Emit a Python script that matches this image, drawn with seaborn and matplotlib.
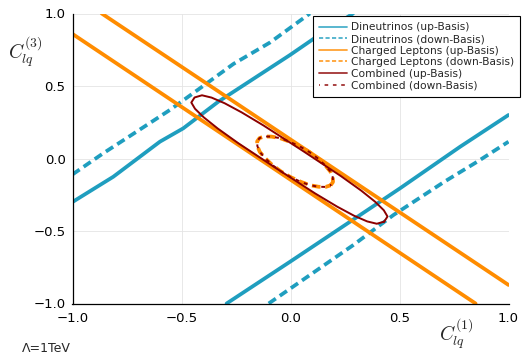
import numpy as np
import pandas as pd
import matplotlib
matplotlib.use("Agg")
import matplotlib.pyplot as plt
import seaborn as sns

# ---------------- data ----------------
# Dineutrinos, up-basis (two solid bands)
nu_up1_x = [-1.0, -0.813, -0.599, -0.492, -0.331, -0.002, 0.120, 0.287]
nu_up1_y = [-0.30, -0.126, 0.116, 0.208, 0.392, 0.714, 0.840, 1.0]
nu_up2_x = [-0.293, -0.002, 0.319, 0.502, 0.778, 1.0]
nu_up2_y = [-1.0, -0.712, -0.39, -0.206, 0.081, 0.30]
# Dineutrinos, down-basis (two dashed bands)
nu_dn1_x = [-1.0, -0.859, -0.706, -0.553, -0.41, -0.262, -0.094, 0.089]
nu_dn1_y = [-0.11, 0.036, 0.185, 0.335, 0.49, 0.652, 0.80, 1.0]
nu_dn2_x = [-0.10, 0.288, 0.472, 0.706, 0.859, 1.0]
nu_dn2_y = [-1.0, -0.597, -0.39, -0.16, -0.02, 0.116]
# Charged leptons, up-basis (two straight solid lines)
cl_up1_x = [-0.866, 1.0]
cl_up1_y = [1.0, -0.872]
cl_up2_x = [-1.0, 0.849]
cl_up2_y = [0.859, -1.0]
# Combined, up-basis (closed contour)
cb_up_x = [0.430, 0.445, 0.428, 0.388, 0.324, 0.231, 0.055, -0.123, -0.224,
           -0.302, -0.362, -0.406, -0.440, -0.455, -0.438, -0.398, -0.334,
           -0.241, -0.065, 0.113, 0.214, 0.292, 0.352, 0.396, 0.430]
cb_up_y = [-0.435, -0.400, -0.357, -0.298, -0.221, -0.121, 0.054, 0.227, 0.318,
           0.381, 0.420, 0.436, 0.421, 0.386, 0.343, 0.284, 0.207, 0.107,
           -0.068, -0.241, -0.332, -0.395, -0.434, -0.450, -0.435]
# Small closed contour (charged leptons down-basis == combined down-basis)
dn_x = [0.184, 0.195, 0.194, 0.183, 0.159, 0.127, 0.087, 0.042, -0.004,
        -0.047, -0.087, -0.119, -0.142, -0.153, -0.152, -0.141, -0.117,
        -0.085, -0.045, 0.000, 0.046, 0.089, 0.129, 0.161, 0.184]
dn_y = [-0.185, -0.162, -0.130, -0.090, -0.047, -0.001, 0.044, 0.084, 0.116,
        0.140, 0.151, 0.152, 0.141, 0.118, 0.086, 0.046, 0.003, -0.043,
        -0.088, -0.128, -0.160, -0.184, -0.195, -0.196, -0.185]

ticks = [-1.0, -0.5, 0.0, 0.5, 1.0]
tick_labels = ["\u22121.0", "\u22120.5", "0.0", "0.5", "1.0"]

labels = ["Dineutrinos (up-Basis)", "Dineutrinos (down-Basis)",
          "Charged Leptons (up-Basis)", "Charged Leptons (down-Basis)",
          "Combined (up-Basis)", "Combined (down-Basis)"]

# ---------------- style ----------------
sns.set_style("white")
plt.rcParams["font.family"] = ["DejaVu Sans"]
plt.rcParams["mathtext.fontset"] = "cm"

teal = "#1f9ebf"
orange = "#ff8c00"
darkred = "#8b0000"

fig = plt.figure(figsize=(5.22, 3.55), dpi=100)
ax = fig.add_axes([72.5 / 522, (355 - 303.5) / 355, 436 / 522, 290 / 355])


def seg(x, y, part):
    return pd.DataFrame({"x": x, "y": y, "part": part, "order": np.arange(len(x))})


dash = (0, (2.3, 1.3))
lw = 2.7

# Dineutrinos up
d = pd.concat([seg(nu_up1_x, nu_up1_y, "a"), seg(nu_up2_x, nu_up2_y, "b")])
for i, (k, g) in enumerate(d.groupby("part")):
    sns.lineplot(data=g, x="x", y="y", sort=False, estimator=None, ax=ax,
                 color=teal, lw=lw, label=labels[0] if i == 0 else None)
# Dineutrinos down
d = pd.concat([seg(nu_dn1_x, nu_dn1_y, "a"), seg(nu_dn2_x, nu_dn2_y, "b")])
for i, (k, g) in enumerate(d.groupby("part")):
    sns.lineplot(data=g, x="x", y="y", sort=False, estimator=None, ax=ax,
                 color=teal, lw=lw, linestyle=dash,
                 label=labels[1] if i == 0 else None)
# Charged leptons up
d = pd.concat([seg(cl_up1_x, cl_up1_y, "a"), seg(cl_up2_x, cl_up2_y, "b")])
for i, (k, g) in enumerate(d.groupby("part")):
    sns.lineplot(data=g, x="x", y="y", sort=False, estimator=None, ax=ax,
                 color=orange, lw=lw, label=labels[2] if i == 0 else None)
# Charged leptons down
sns.lineplot(data=seg(dn_x, dn_y, "a"), x="x", y="y", sort=False, estimator=None,
             ax=ax, color=orange, lw=lw, linestyle=dash, label=labels[3])
# Combined up
sns.lineplot(data=seg(cb_up_x, cb_up_y, "a"), x="x", y="y", sort=False,
             estimator=None, ax=ax, color=darkred, lw=1.4, label=labels[4])
# Combined down
sns.lineplot(data=seg(dn_x, dn_y, "a"), x="x", y="y", sort=False, estimator=None,
             ax=ax, color=darkred, lw=1.4, linestyle=(1.5, (2.0, 2.6)),
             label=labels[5])

ax.set_xlim(-1, 1)
ax.set_ylim(-1, 1)
ax.set_xticks(ticks)
ax.set_yticks(ticks)
ax.set_xticklabels(tick_labels)
ax.set_yticklabels(tick_labels)
ax.set_xlabel("")
ax.set_ylabel("")
ax.grid(True, color="#e4e4e4", lw=0.6)
ax.set_axisbelow(True)
for s in ["top", "right"]:
    ax.spines[s].set_visible(False)
for s in ["left", "bottom"]:
    ax.spines[s].set_color("black")
    ax.spines[s].set_linewidth(0.9)
ax.tick_params(axis="both", direction="in", length=3.5, width=0.8,
               labelsize=9.5, colors="black")
ax.tick_params(axis="x", pad=6)
ax.tick_params(axis="y", pad=5)

leg = ax.legend(loc="upper right", bbox_to_anchor=(1.027, 0.992),
                borderaxespad=0, fontsize=7.65, labelspacing=0.15,
                handlelength=2.6, handletextpad=0.35, borderpad=0.62,
                frameon=True, fancybox=False, framealpha=1)
leg.get_frame().set_edgecolor("black")
leg.get_frame().set_linewidth(0.8)
for ln in leg.get_lines():
    ln.set_linewidth(1.3)
    ln.set_alpha(0.8)

fig.text(25 / 522, 1 - 52 / 355, r"$C_{lq}^{(3)}$", fontsize=14,
         ha="center", va="center")
fig.text(456 / 522, 1 - 334 / 355, r"$C_{lq}^{(1)}$", fontsize=14,
         ha="center", va="center")
fig.text(22 / 522, 1 - 348 / 355, "\u039b=1TeV", fontsize=9,
         ha="left", va="center")

fig.savefig("out.png", dpi=100, facecolor="white")
